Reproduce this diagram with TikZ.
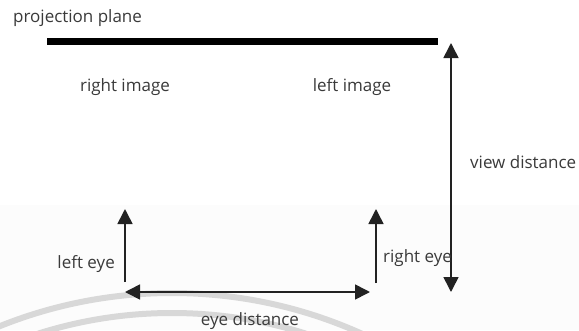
\documentclass[tikz,border=0pt]{standalone}
\usepackage{fontspec}
\setmainfont{Open Sans}
\usetikzlibrary{arrows.meta}
\definecolor{ink}{HTML}{222222}
\definecolor{txt}{HTML}{3A3A3A}
\definecolor{ring}{HTML}{D8D8D8}
\tikzset{
  lbl/.style={text=txt, font=\fontsize{17}{20}\selectfont, inner sep=0pt},
  dimarrow/.style={draw=ink, line width=1.6pt, {Triangle[length=15pt,width=15pt]}-{Triangle[length=15pt,width=15pt]}},
  eyearrow/.style={draw=ink, line width=1.6pt, -{Triangle[length=15pt,width=15pt]}},
  plane/.style={draw=black, line width=7pt}
}
\begin{document}
\begin{tikzpicture}[x=1pt,y=-1pt]
  % page frame and faint lower band
  \useasboundingbox (0,0) rectangle (579,330);
  \fill[white] (0,0) rectangle (579,330);
  \fill[black!1] (0,205) rectangle (579,330);
  % seal rings in the lower margin
  \begin{scope}
    \clip (0,0) rectangle (579,330);
    \draw[ring, line width=6pt] (172,755) circle[radius=462];
    \draw[ring, line width=6pt] (172,755) circle[radius=442];
  \end{scope}

  % projection plane
  \coordinate (pl) at (47,41.5);
  \coordinate (pr) at (438,41.5);
  \draw[plane] (pl) -- (pr);
  \node[lbl, anchor=base west] (plabel) at (13,22) {projection plane};

  % images on the plane
  \node[lbl, anchor=base] (rimg) at (125,91.5) {right image};
  \node[lbl, anchor=base] (limg) at (352,91) {left image};

  % view distance
  \coordinate (vtop) at (451,43);
  \coordinate (vbot) at (451,292);
  \draw[dimarrow] (vtop) -- (vbot);
  \node[lbl, anchor=base west] (vlabel) at (470,168) {view distance};

  % eyes
  \coordinate (le0) at (125,282);
  \coordinate (le1) at (125,209);
  \coordinate (re0) at (376,283);
  \coordinate (re1) at (376,209);
  \draw[eyearrow] (le0) -- (le1);
  \draw[eyearrow] (re0) -- (re1);
  \node[lbl, anchor=base east] (llabel) at (115,268) {left eye};
  \node[lbl, anchor=base west] (rlabel) at (383,262) {right eye};

  % eye distance
  \coordinate (ed0) at (125,292);
  \coordinate (ed1) at (370,292);
  \draw[dimarrow] (ed0) -- (ed1);
  \node[lbl, anchor=base] (elabel) at (250,325) {eye distance};
\end{tikzpicture}
\end{document}
